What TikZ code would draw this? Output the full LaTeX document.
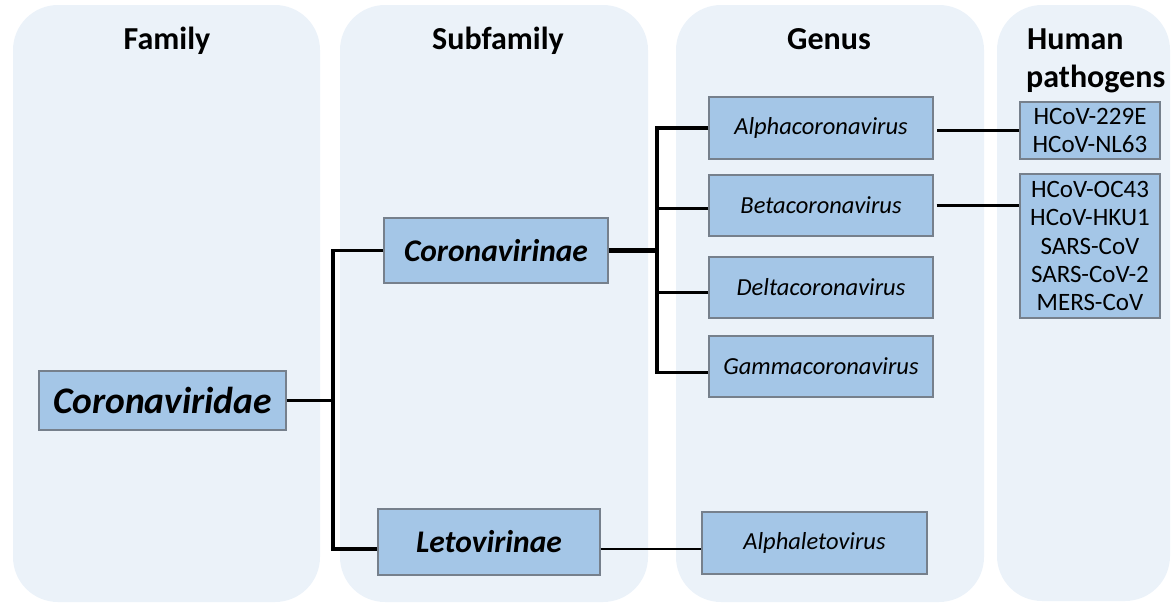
\documentclass[tikz,border=0pt]{standalone}
\usepackage{fontspec}
\setmainfont{Carlito}
\usetikzlibrary{calc}
\definecolor{panelbg}{RGB}{235,242,249}
\definecolor{boxfill}{RGB}{164,198,231}
\definecolor{boxline}{RGB}{118,128,140}
\newcommand\fTitle{\fontsize{32}{38}\selectfont\bfseries}
\newcommand\fFam{\fontsize{37.5}{44}\selectfont\bfseries\itshape}
\newcommand\fSub{\fontsize{31.5}{37}\selectfont\bfseries\itshape}
\newcommand\fGen{\fontsize{24.5}{28}\selectfont\itshape}
\newcommand\fHum{\fontsize{25}{28.3}\selectfont}
\tikzset{
  panel/.style={fill=panelbg, rounded corners=45pt},
  taxbox/.style={draw=boxline, fill=boxfill, line width=1.2pt, inner sep=0pt, align=center},
  trunk/.style={line width=3.5pt, black},
  heavy/.style={line width=5pt, black},
  link/.style={line width=2.4pt, black},
  thinlink/.style={line width=1.7pt, black},
  ttl/.style={anchor=base, inner sep=0pt}
}
\begin{document}
\begin{tikzpicture}[x=1pt,y=-1pt]
\useasboundingbox (0,0) rectangle (1174,603);
% panels
\fill[panel] (13,5) rectangle (320,602);
\fill[panel] (340,5) rectangle (648,602);
\fill[panel] (676,5) rectangle (984,602);
\fill[panel] (997,5) rectangle (1170,601);
% titles
\node[ttl, font=\fTitle] (tfam) at (167,49) {Family};
\node[ttl, font=\fTitle] (tsub) at (498,49) {Subfamily};
\node[ttl, font=\fTitle] (tgen) at (829,49) {Genus};
\node[anchor=base west, inner sep=0pt, font=\fTitle, align=left] (thum) at (1026,87) {\makebox[0pt][l]{\hspace{1pt}Human}\\pathogens};
% boxes
\node[taxbox, minimum width=247pt, minimum height=59pt, font=\fFam] (cvidae) at (162.5,400.5) {Coronaviridae};
\node[taxbox, minimum width=224pt, minimum height=65pt, font=\fSub] (cvinae) at (496,250.5) {Coronavirinae};
\node[taxbox, minimum width=222pt, minimum height=66pt, font=\fSub] (letov) at (489,542) {Letovirinae};
\node[taxbox, minimum width=224pt, minimum height=62pt, font=\fGen] (alpha) at (821,128) {Alphacoronavirus};
\node[taxbox, minimum width=224pt, minimum height=61pt, font=\fGen] (beta) at (821,205.5) {Betacoronavirus};
\node[taxbox, minimum width=224pt, minimum height=61pt, font=\fGen] (delta) at (821,287.5) {Deltacoronavirus};
\node[taxbox, minimum width=224pt, minimum height=61pt, font=\fGen] (gamma) at (821,366.5) {Gammacoronavirus};
\node[taxbox, minimum width=225pt, minimum height=62pt, font=\fGen] (aleto) at (814.5,543) {Alphaletovirus};
\node[taxbox, minimum width=140pt, minimum height=57pt, font=\fHum] (hp1) at (1090,130.5) {HCoV-229E\\HCoV-NL63};
\node[taxbox, minimum width=140pt, minimum height=144pt, font=\fHum] (hp2) at (1090,246) {HCoV-OC43\\HCoV-HKU1\\SARS-CoV\\SARS-CoV-2\\MERS-CoV};
% connectors
\coordinate (j1) at (333,400.5);
\coordinate (j2) at (657,250.5);
\coordinate (lj) at ([yshift=-7pt]letov.east);
\draw[trunk] (cvidae.east) -- (j1);
\draw[trunk] (cvinae.west) -| (j1) |- ([yshift=-7pt]letov.west);
\draw[heavy] (cvinae.east) -- (j2);
\draw[trunk] (alpha.west) -| (j2) |- ([yshift=-6pt]gamma.west);
\draw[trunk] ([yshift=-3pt]beta.west) -- ++(-52,0);
\draw[trunk] ([yshift=-5pt]delta.west) -- ++(-52,0);
\draw[link, shorten >=3pt] (hp1.west) -- (hp1.west -| alpha.east);
\draw[link, shorten <=3pt] (beta.east) -- (beta.east -| hp2.west);
\draw[thinlink] (lj) -- (lj -| aleto.west);
\end{tikzpicture}
\end{document}
